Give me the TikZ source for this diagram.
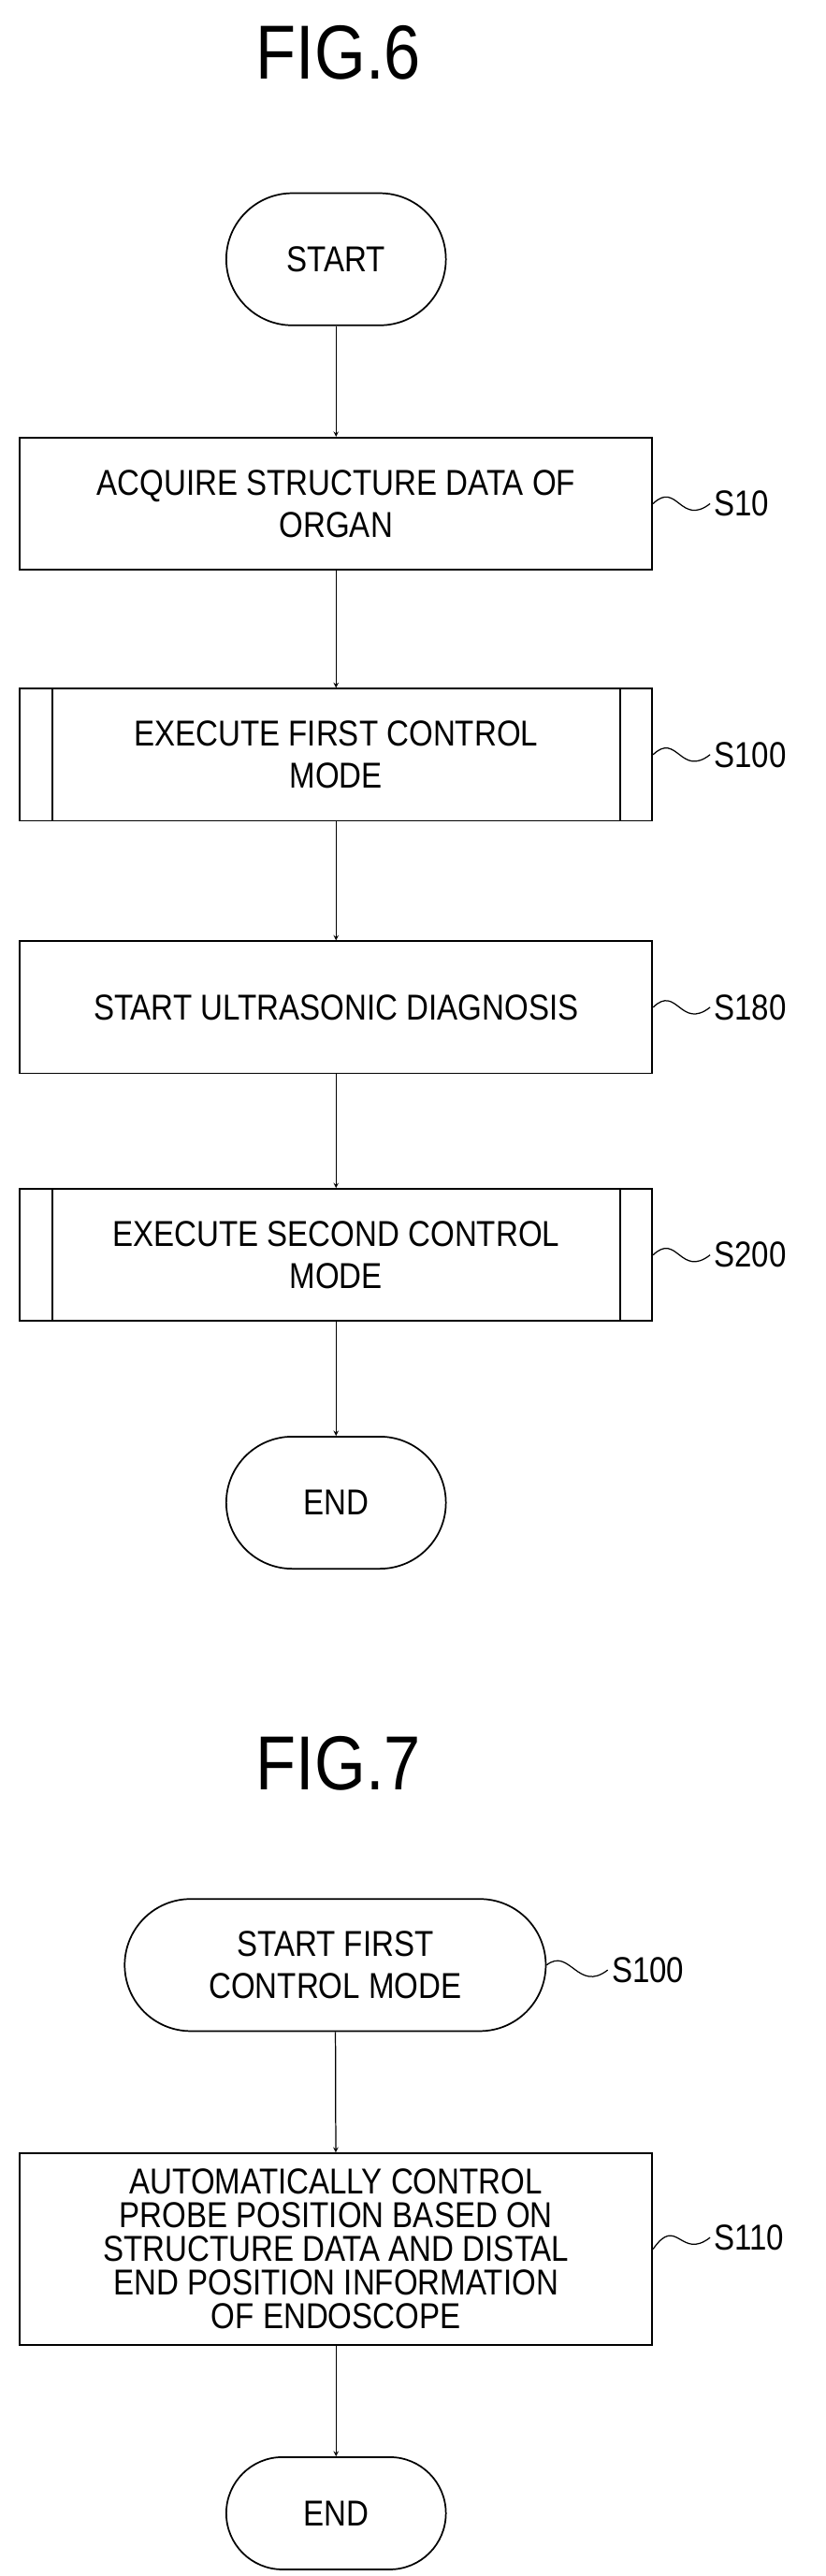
\documentclass[tikz,border=0pt]{standalone}
\usepackage{fontspec}
\setmainfont{Liberation Sans}
\newfontfamily\narrowf[FakeStretch=0.86]{Liberation Sans}
\begin{document}
\begin{tikzpicture}[x=0.05cm,y=-0.05cm,
  box/.style={draw,line width=1.4pt,minimum width=19.15cm,minimum height=4cm,align=center,font=\narrowf\fontsize{31}{36}\selectfont,inner sep=0pt},
  term/.style={draw,line width=1.4pt,rounded corners=2cm,minimum width=6.65cm,minimum height=4cm,align=center,font=\narrowf\fontsize{31}{36}\selectfont},
  lbl/.style={font=\narrowf\fontsize{31}{36}\selectfont,anchor=west},
  arr/.style={->,>=stealth,line width=1pt},
  sq/.style={line width=1pt},
  title/.style={font=\narrowf\fontsize{66}{76}\selectfont}]
\useasboundingbox (0,0) rectangle (500,1560);
\node[title] (t6) at (205,32) {FIG.6};
\node[term] (start) at (203.5,157) {START};
\node[box] (s10) at (203.5,305) {ACQUIRE STRUCTURE DATA OF\\ORGAN};
\node[box] (s100) at (203.5,457) {EXECUTE FIRST CONTROL\\MODE};
\draw[line width=1.4pt] ([xshift=1cm]s100.north west) -- ([xshift=1cm]s100.south west);
\draw[line width=1.4pt] ([xshift=-1cm]s100.north east) -- ([xshift=-1cm]s100.south east);
\node[box] (s180) at (203.5,610) {START ULTRASONIC DIAGNOSIS};
\node[box] (s200) at (203.5,760) {EXECUTE SECOND CONTROL\\MODE};
\draw[line width=1.4pt] ([xshift=1cm]s200.north west) -- ([xshift=1cm]s200.south west);
\draw[line width=1.4pt] ([xshift=-1cm]s200.north east) -- ([xshift=-1cm]s200.south east);
\node[term] (end1) at (203.5,910) {END};
\draw[arr] (start) -- (s10);
\draw[arr] (s10) -- (s100);
\draw[arr] (s100) -- (s180);
\draw[arr] (s180) -- (s200);
\draw[arr] (s200) -- (end1);
\foreach \n/\t/\y in {s10/S10/305,s100/S100/457,s180/S180/610,s200/S200/760}{
  \node[lbl] (l\n) at (430,\y) {\t};
  \draw[sq] (\n.east) .. controls (410,\y-14) and (412,\y+14) .. (l\n.west);
}
\node[title] (t7) at (205,1068) {FIG.7};
\node[term,minimum width=12.75cm,rounded corners=2cm] (st7) at (203,1190) {START FIRST\\CONTROL MODE};
\node[lbl] (l7a) at (368,1193) {S100};
\draw[sq] (st7.east) .. controls (345,1179) and (350,1207) .. (l7a.west);
\node[box,minimum height=5.8cm,font=\narrowf\fontsize{31}{29}\selectfont] (s110) at (203.5,1362) {AUTOMATICALLY CONTROL\\PROBE POSITION BASED ON\\STRUCTURE DATA AND DISTAL\\END POSITION INFORMATION\\OF ENDOSCOPE};
\node[lbl] (l110) at (430,1355) {S110};
\draw[sq] (s110.east) .. controls (410,1341) and (412,1369) .. (l110.west);
\node[term,minimum height=3.4cm,rounded corners=1.7cm] (end2) at (203.5,1522) {END};
\draw[arr] (st7) -- (s110);
\draw[arr] (s110) -- (end2);
\end{tikzpicture}
\end{document}
